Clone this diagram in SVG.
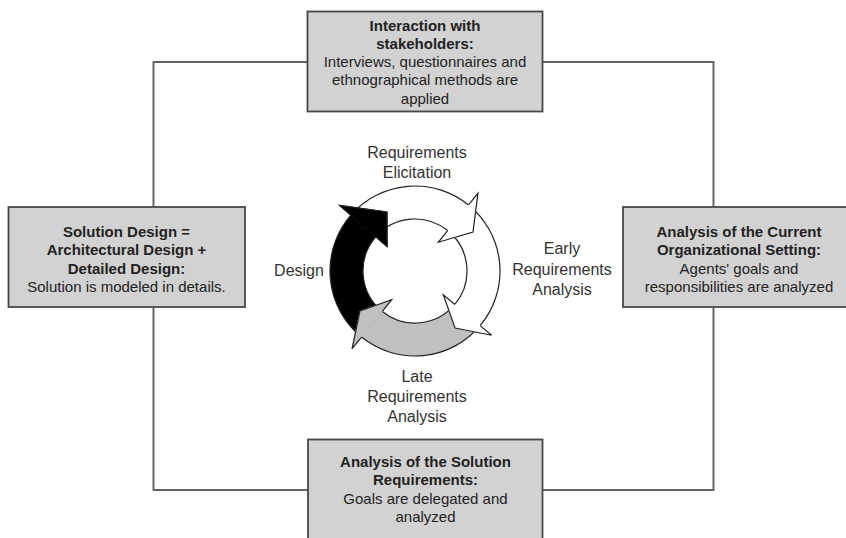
<svg xmlns="http://www.w3.org/2000/svg" width="846" height="538" viewBox="0 0 846 538">
<style>
.conn{fill:none;stroke:#666;stroke-width:2}
.box{fill:#d2d2d2;stroke:#474747;stroke-width:1.8}
.t{font-family:"Liberation Sans",Arial,sans-serif;font-size:15px;fill:#222;text-anchor:middle}
.b{font-weight:bold}
.lbl{font-family:"Liberation Sans",Arial,sans-serif;font-size:16px;fill:#333;text-anchor:middle}
.arc{fill:none;stroke:#222;stroke-width:1.2}
.hd{stroke:#222;stroke-width:1.2;fill:none;stroke-linejoin:miter}
</style>
<rect width="846" height="538" fill="#fff"/>
<g id="connectors">
<path class="conn" d="M543,62 H713.5 V207"/>
<path class="conn" d="M713.5,307 V490 H543"/>
<path class="conn" d="M308,490 H153.5 V307"/>
<path class="conn" d="M153.5,207 V62 H307"/>
</g>
<g id="node-top">
<rect class="box" x="307.5" y="11.5" width="235" height="100"/>
<text class="t b" x="425" y="30.5">Interaction with</text>
<text class="t b" x="425" y="48.8">stakeholders:</text>
<text class="t" x="425" y="67.1">Interviews, questionnaires and</text>
<text class="t" x="425" y="85.4">ethnographical methods are</text>
<text class="t" x="425" y="103.7">applied</text>
</g>
<g id="node-left">
<rect class="box" x="8.5" y="207" width="236.5" height="100"/>
<text class="t b" x="126.5" y="237">Solution Design =</text>
<text class="t b" x="126.5" y="255.3">Architectural Design +</text>
<text class="t b" x="126.5" y="273.6">Detailed Design:</text>
<text class="t" x="126.5" y="291.9">Solution is modeled in details.</text>
</g>
<g id="node-right">
<rect class="box" x="623" y="207" width="232" height="100"/>
<text class="t b" x="739" y="237">Analysis of the Current</text>
<text class="t b" x="739" y="255.3">Organizational Setting:</text>
<text class="t" x="739" y="273.6">Agents' goals and</text>
<text class="t" x="739" y="291.9">responsibilities are analyzed</text>
</g>
<g id="node-bottom">
<rect class="box" x="308" y="439.5" width="234.5" height="100"/>
<text class="t b" x="425.5" y="467">Analysis of the Solution</text>
<text class="t b" x="425.5" y="485.3">Requirements:</text>
<text class="t" x="425.5" y="503.6">Goals are delegated and</text>
<text class="t" x="425.5" y="521.9">analyzed</text>
</g>
<g id="cycle">
<!-- body fills -->
<path fill="#fff" d="M350.85,215.23 A85,85 0 0 1 468.49,204.94 L447.72,230.59 A52,52 0 0 0 375.76,236.89 Z"/>
<path fill="#fff" d="M468.49,204.94 A85,85 0 0 1 480.11,325.64 L454.83,304.43 A52,52 0 0 0 447.72,230.59 Z"/>
<path fill="#c0c0c0" d="M480.11,325.64 A85,85 0 0 1 361.51,337.06 L382.28,311.41 A52,52 0 0 0 454.83,304.43 Z"/>
<path fill="#000" d="M361.51,337.06 A85,85 0 0 1 350.85,215.23 L375.76,236.89 A52,52 0 0 0 382.28,311.41 Z"/>
<!-- body arcs -->
<path class="arc" d="M350.85,215.23 A85,85 0 0 1 468.49,204.94 M375.76,236.89 A52,52 0 0 1 447.72,230.59"/>
<path class="arc" d="M468.49,204.94 A85,85 0 0 1 480.11,325.64 M447.72,230.59 A52,52 0 0 1 454.83,304.43"/>
<path class="arc" d="M480.11,325.64 A85,85 0 0 1 361.51,337.06 M454.83,304.43 A52,52 0 0 1 382.28,311.41"/>
<path class="arc" d="M361.51,337.06 A85,85 0 0 1 350.85,215.23 M382.28,311.41 A52,52 0 0 1 375.76,236.89"/>
<!-- heads -->
<polygon fill="#fff" stroke="#fff" stroke-width="1" points="468.49,204.94 477.93,193.28 473,232 438.28,242.25 447.72,230.59"/>
<polyline class="hd" points="468.49,204.94 477.93,193.28 473,232 438.28,242.25 447.72,230.59"/>
<polygon fill="#fff" stroke="#fff" stroke-width="1" points="480.11,325.64 491.6,335.28 455,328 443.34,294.78 454.83,304.43"/>
<polyline class="hd" points="480.11,325.64 491.6,335.28 455,328 443.34,294.78 454.83,304.43"/>
<polygon fill="#c0c0c0" stroke="#c0c0c0" stroke-width="1" points="361.51,337.06 352.07,348.72 360,311 391.72,299.75 382.28,311.41"/>
<polyline class="hd" points="361.51,337.06 352.07,348.72 360,311 391.72,299.75 382.28,311.41"/>
<polygon fill="#000" stroke="#000" stroke-width="1" points="350.85,215.23 339.53,205.39 387,212 387.08,246.73 375.76,236.89"/>
<polyline class="hd" points="350.85,215.23 339.53,205.39 387,212 387.08,246.73 375.76,236.89"/>
</g>
<g id="labels">
<text class="lbl" x="417" y="158">Requirements</text>
<text class="lbl" x="417" y="178">Elicitation</text>
<text class="lbl" x="562" y="254">Early</text>
<text class="lbl" x="562" y="274.5">Requirements</text>
<text class="lbl" x="562" y="295">Analysis</text>
<text class="lbl" x="299" y="276">Design</text>
<text class="lbl" x="417" y="382">Late</text>
<text class="lbl" x="417" y="402">Requirements</text>
<text class="lbl" x="417" y="422">Analysis</text>
</g>
</svg>
